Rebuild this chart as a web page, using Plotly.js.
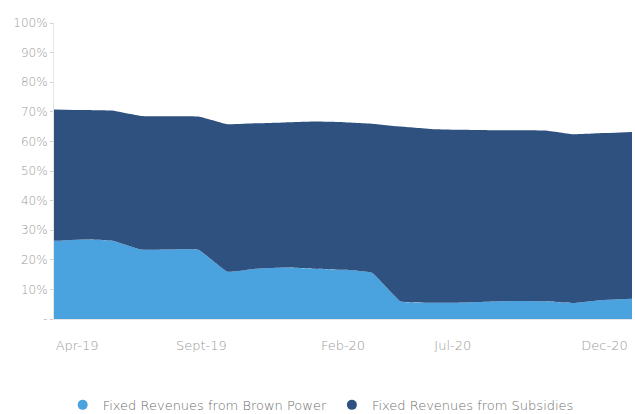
<!DOCTYPE html>
<html>
<head>
<meta charset="utf-8">
<script src="https://cdn.plot.ly/plotly-3.0.1.min.js"></script>
<style>html,body{margin:0;padding:0;background:#fff;}#chart{width:635px;height:414px;}</style>
</head>
<body>
<div id="chart"></div>
<script>
// Months Apr-19 .. Dec-20 (index 0..20)
const months = ["Apr-19","May-19","Jun-19","Jul-19","Aug-19","Sept-19","Oct-19","Nov-19","Dec-19","Jan-20","Feb-20","Mar-20","Apr-20","May-20","Jun-20","Jul-20","Aug-20","Sep-20","Oct-20","Nov-20","Dec-20"];
const brownPower = [26.4,26.9,26.5,23.5,23.5,23.4,16.0,17.0,17.4,17.0,16.6,15.6,5.9,5.5,5.5,5.8,6.1,6.0,5.4,6.4,6.8];
const subsidies  = [44.4,43.7,43.9,45.1,45.0,45.0,49.8,49.1,49.0,49.7,49.9,50.4,59.1,58.7,58.4,58.0,57.7,57.7,57.0,56.4,56.4];
const tickLabels = ["Apr-19","Sept-19","Feb-20","Jul-20","Dec-20"];
const tickIdx    = [0.8, 5.1, 10.0, 13.8, 19.05];
const yTickVals  = [0,10,20,30,40,50,60,70,80,90,100];
const yTickText  = ["-","10%","20%","30%","40%","50%","60%","70%","80%","90%","100%"];
const names = ["Fixed Revenues from Brown Power","Fixed Revenues from Subsidies"];
const colors = ["#4aa3de","#2e5180"];

const xIdx = months.map((m,i)=>i);
const traces = [
  {x:xIdx, y:brownPower, text:months, type:"scatter", mode:"none", stackgroup:"one", fillcolor:colors[0], line:{width:0, shape:"spline", smoothing:0.3}, name:names[0], showlegend:false},
  {x:xIdx, y:subsidies, text:months, type:"scatter", mode:"none", stackgroup:"one", fillcolor:colors[1], line:{width:0, shape:"spline", smoothing:0.3}, name:names[1], showlegend:false},
  {x:[null], y:[null], type:"scatter", mode:"markers", marker:{color:colors[0], size:10}, name:names[0]},
  {x:[null], y:[null], type:"scatter", mode:"markers", marker:{color:colors[1], size:10}, name:names[1]}
];
const layout = {
  width:635, height:414,
  margin:{l:54, r:3, t:23, b:95},
  paper_bgcolor:"#fff", plot_bgcolor:"#fff",
  font:{family:"'DejaVu Sans', sans-serif", color:"#9a9a9a", size:12, weight:200},
  showlegend:true,
  legend:{orientation:"h", traceorder:"normal", xref:"container", yref:"container", x:0.505, xanchor:"center", y:0.022, yanchor:"middle", font:{size:13, color:"#6e6e6e", weight:200}, itemwidth:30, tracegroupgap:0},
  xaxis:{range:[0,20], tickvals:tickIdx, ticktext:tickLabels, showgrid:false, zeroline:false, showline:true, linecolor:"#e6e6e6", linewidth:1, ticks:"", tickfont:{size:13, color:"#9a9a9a", weight:200}, ticklabelstandoff:14, ticklabeloverflow:"allow", automargin:false, fixedrange:true},
  yaxis:{range:[0,100], tickvals:yTickVals, ticktext:yTickText, showgrid:false, zeroline:false, showline:true, linecolor:"#e6e6e6", linewidth:1, ticks:"outside", ticklen:3, tickcolor:"#d0d0d0", tickfont:{size:12, color:"#9a9a9a", weight:200}, automargin:false, fixedrange:true}
};
Plotly.newPlot("chart", traces, layout, {displayModeBar:false, staticPlot:true});
</script>
</body>
</html>
